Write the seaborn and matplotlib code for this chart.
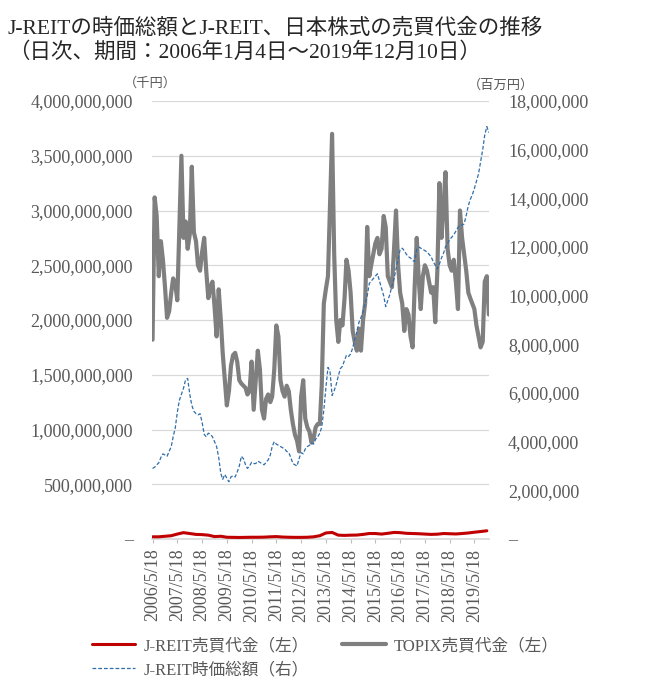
"""
J-REIT market cap vs. J-REIT / TOPIX trading value (daily, 2006-2019)
"""
import pandas as pd
import matplotlib
matplotlib.use("Agg")
import matplotlib.pyplot as plt
import seaborn as sns

# ---- data ----
# TOPIX trading value, left axis, 1e9 x 千円, monthly from 2006/5/18
topix_trading = [
    1.82, 3.12, 2.95, 2.40, 2.72, 2.55, 2.30, 2.02, 2.08, 2.25,
    2.38, 2.33, 2.18, 2.85, 3.50, 2.75, 2.90, 2.65, 2.78, 3.40,
    2.80, 2.72, 2.50, 2.45, 2.62, 2.75, 2.45, 2.20, 2.30, 2.35,
    2.12, 1.85, 2.28, 2.00, 1.70, 1.45, 1.22, 1.35, 1.58, 1.68,
    1.70, 1.62, 1.45, 1.42, 1.40, 1.38, 1.32, 1.35, 1.62, 1.18,
    1.45, 1.72, 1.55, 1.18, 1.10, 1.28, 1.32, 1.25, 1.30, 1.55,
    1.95, 1.85, 1.45, 1.35, 1.30, 1.40, 1.35, 1.18, 1.05, 0.95,
    0.90, 0.80, 1.30, 1.45, 1.10, 1.02, 0.98, 0.88, 0.92, 1.02,
    1.05, 1.05, 1.40, 2.15, 2.28, 2.40, 3.05, 3.70, 2.60, 2.00,
    1.80, 2.00, 1.95, 2.20, 2.55, 2.45, 2.25, 1.90, 1.80, 1.72,
    1.92, 1.72, 2.00, 2.15, 2.85, 2.40, 2.50, 2.60, 2.70, 2.75,
    2.60, 2.65, 2.95, 2.85, 2.40, 2.35, 2.30, 2.65, 3.00, 2.50,
    2.25, 2.15, 1.90, 2.10, 2.05, 1.85, 1.75, 2.30, 2.75, 2.35,
    2.10, 2.40, 2.50, 2.45, 2.35, 2.25, 2.30, 1.98, 2.45, 3.25,
    2.75, 3.05, 3.35, 2.65, 2.50, 2.45, 2.55, 2.35, 2.10, 3.00,
    2.75, 2.60, 2.45, 2.25, 2.20, 2.15, 2.10, 1.95, 1.85, 1.75,
    1.80, 2.35, 2.40, 2.05,
]

# J-REIT market cap, right axis, 1e6 x 百万円, monthly from 2006/5/18
jreit_cap = [
    2.90, 2.95, 3.05, 3.13, 3.35, 3.50, 3.45, 3.40, 3.60, 3.80,
    4.20, 4.56, 5.20, 5.70, 5.95, 6.20, 6.55, 6.60, 5.95, 5.50,
    5.25, 5.15, 5.10, 5.15, 4.80, 4.30, 4.20, 4.35, 4.30, 4.20,
    4.00, 3.80, 3.35, 2.70, 2.45, 2.65, 2.50, 2.35, 2.55, 2.60,
    2.55, 2.75, 3.00, 3.40, 3.30, 3.05, 2.90, 3.00, 3.15, 3.10,
    3.10, 3.20, 3.15, 3.10, 3.05, 3.15, 3.25, 3.45, 3.80, 4.00,
    3.90, 3.85, 3.80, 3.75, 3.70, 3.60, 3.55, 3.35, 3.10, 3.05,
    3.00, 3.30, 3.55, 3.50, 3.70, 3.80, 3.85, 3.95, 3.90, 4.10,
    4.20, 4.35, 4.60, 5.30, 6.20, 7.05, 6.90, 5.90, 6.10, 6.35,
    6.70, 7.00, 7.10, 7.35, 7.55, 7.50, 7.60, 7.85, 8.20, 8.50,
    8.90, 9.10, 9.35, 9.70, 10.00, 10.50, 10.60, 10.70, 10.80, 10.90,
    10.60, 10.30, 10.00, 9.55, 9.80, 10.05, 10.40, 10.70, 11.10, 11.50,
    11.90, 11.95, 11.85, 11.70, 11.60, 11.55, 11.45, 11.40, 11.90, 12.00,
    11.95, 11.90, 11.85, 11.80, 11.70, 11.60, 11.40, 11.25, 11.10, 11.30,
    11.55, 11.75, 12.00, 12.15, 12.30, 12.40, 12.50, 12.65, 12.80, 12.90,
    12.90, 12.95, 13.30, 13.70, 13.95, 14.15, 14.40, 14.70, 15.00, 15.50,
    16.00, 16.60, 16.95, 16.70,
]

# J-REIT trading value, left axis, 1e9 x 千円, quarterly from 2006/5/18
jreit_trading = [
    0.020, 0.020, 0.025, 0.030, 0.045, 0.058, 0.050, 0.042, 0.040, 0.035,
    0.022, 0.025, 0.016, 0.015, 0.014, 0.015, 0.016, 0.016, 0.017, 0.020,
    0.022, 0.018, 0.016, 0.015, 0.015, 0.016, 0.020, 0.030, 0.055, 0.060,
    0.035, 0.033, 0.035, 0.036, 0.042, 0.050, 0.050, 0.045, 0.052, 0.060,
    0.058, 0.052, 0.050, 0.048, 0.045, 0.042, 0.044, 0.050, 0.048, 0.046,
    0.050, 0.055, 0.062, 0.068, 0.075,
]

title_lines = [
    "J-REITの時価総額とJ-REIT、日本株式の売買代金の推移",
    "（日次、期間：2006年1月4日～2019年12月10日）",
]
labels = ["J-REIT売買代金（左）", "TOPIX売買代金（左）", "J-REIT時価総額（右）"]
left_ticks = [i * 500_000_000 for i in range(9)]
right_ticks = [i * 2_000_000 for i in range(10)]
tick_years = list(range(2006, 2020))

# ---- build frames ----
start = pd.Timestamp("2006-05-18")
df_month = pd.DataFrame({
    "date": [start + pd.DateOffset(months=i) for i in range(len(topix_trading))],
    "topix": [v * 1e9 for v in topix_trading],
    "cap": [v * 1e6 for v in jreit_cap],
})
df_quarter = pd.DataFrame({
    "date": [start + pd.DateOffset(months=3 * i) for i in range(len(jreit_trading))],
    "jreit": [v * 1e9 for v in jreit_trading],
})

RED = "#C00000"
GRAY = "#7F7F7F"
BLUE = "#2F6EAA"
TXT = "#595959"
GRID = "#D9D9D9"

sns.set_theme(style="white")
plt.rcParams["font.family"] = ["Liberation Serif", "Noto Sans CJK JP"]

W, H = 649, 697
fig = plt.figure(figsize=(W / 100, H / 100), dpi=100)
ax = fig.add_axes([152 / W, 1 - 539 / H, (489 - 152) / W, (539 - 101) / H])
ax2 = ax.twinx()

sns.lineplot(data=df_month, x="date", y="topix", ax=ax, color=GRAY, lw=3.0,
             label=labels[1], legend=False, zorder=2)
sns.lineplot(data=df_quarter, x="date", y="jreit", ax=ax, color=RED, lw=2.2,
             label=labels[0], legend=False, zorder=3)
sns.lineplot(data=df_month, x="date", y="cap", ax=ax2, color=BLUE, lw=0.9,
             dashes=False, label=labels[2], legend=False)
ax2.lines[0].set_dashes((3, 1.6))

# axes ranges and ticks
ax.set_xlim(pd.Timestamp("2006-05-10"), pd.Timestamp("2019-12-20"))
ax.set_ylim(0, 4_000_000_000)
ax2.set_ylim(0, 18_000_000)
ax.set_yticks(left_ticks)
ax.set_yticklabels(["–" if v == 0 else f"{v:,}" for v in left_ticks])
ax2.set_yticks(right_ticks)
ax2.set_yticklabels(["–" if v == 0 else f"{v:,}" for v in right_ticks])

xt = [pd.Timestamp(year=y, month=5, day=18) for y in tick_years]
ax.set_xticks(xt)
ax.set_xticklabels([f"{d.year}/{d.month}/{d.day}" for d in xt], rotation=90)

ax.grid(axis="y", color=GRID, lw=0.9)
ax.set_axisbelow(True)
ax.set_xlabel("")
ax.set_ylabel("")
ax2.set_ylabel("")
for a in (ax, ax2):
    for s in ("top", "left", "right"):
        a.spines[s].set_visible(False)
    a.spines["bottom"].set_color(GRID)
ax2.spines["bottom"].set_visible(False)

ax.tick_params(axis="y", length=0, pad=13.7, labelsize=13, labelcolor=TXT)
ax2.tick_params(axis="y", length=0, pad=13.7, labelsize=13, labelcolor=TXT)
ax.tick_params(axis="x", bottom=True, length=3, width=0.8, color="#BFBFBF",
               pad=4, labelsize=13, labelcolor=TXT)

# titles and unit labels
fig.text(8 / W, 1 - 28 / H, title_lines[0], fontsize=15.5, color="#262626", va="center")
fig.text(8 / W, 1 - 53 / H, title_lines[1], fontsize=15.5, color="#262626", va="center")
fig.text(150 / W, 1 - 83 / H, "（千円）", fontsize=9.5, color=TXT, ha="center", va="center")
fig.text(501 / W, 1 - 85 / H, "（百万円）", fontsize=9.5, color=TXT, ha="center", va="center")

# legend: row1 red, gray; row2 blue
h_red = ax.lines[1]
h_gray = ax.lines[0]
h_blue = ax2.lines[0]
fig.legend([h_red, h_blue, h_gray], [labels[0], labels[2], labels[1]],
           ncol=2, loc="upper left", bbox_to_anchor=(92 / W, 1 - 638 / H),
           frameon=False, fontsize=12, labelcolor=TXT, handlelength=2.6,
           handletextpad=0.5, columnspacing=2.0, labelspacing=0.48,
           borderaxespad=0, borderpad=0)

fig.savefig("out.png", dpi=100)
plt.close(fig)
